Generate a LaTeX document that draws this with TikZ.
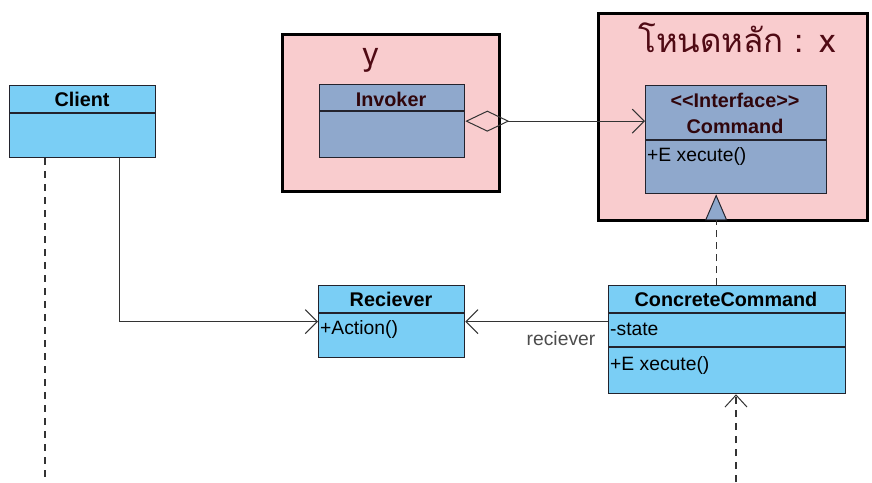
\documentclass[tikz,border=0pt]{standalone}
\usepackage{fontspec}
\setmainfont{Liberation Sans}
\newfontfamily\thaifont[Script=Thai]{Loma}
\usetikzlibrary{arrows.meta,positioning}

\definecolor{lightblue}{RGB}{122,206,245}
\definecolor{steelblue}{RGB}{143,168,204}
\definecolor{framepink}{RGB}{249,204,206}
\definecolor{boxline}{RGB}{35,35,45}
\definecolor{labelred}{RGB}{80,10,20}

\begin{document}
\begin{tikzpicture}[x=1pt, y=-1pt,
    every node/.style={font=\fontsize{19.3}{22}\selectfont},
    frame/.style={draw=black, line width=3.2pt, fill=framepink, anchor=north west, inner sep=0pt},
    classbox/.style={draw=boxline, line width=1.3pt, fill=lightblue, anchor=north west, inner sep=0pt},
    ifacebox/.style={classbox, fill=steelblue},
    header/.style={font=\bfseries\fontsize{19.8}{22}\selectfont, inner sep=0pt},
    member/.style={anchor=west, inner sep=0pt},
    divider/.style={draw=boxline, line width=1.3pt},
    framelabel/.style={text=labelred, font=\thaifont\fontsize{33}{36}\selectfont, inner sep=0pt},
    roletext/.style={text=black!70, inner sep=0pt},
    assoc/.style={draw=black!80, line width=1pt, -{Straight Barb[length=12pt, width=24pt, line width=1pt]}},
    aggr/.style={draw=black!80, line width=1pt, {Diamond[open, length=44pt, width=21pt, line width=1pt]}-{Straight Barb[length=12pt, width=24pt, line width=1pt]}},
    realize/.style={draw=black!80, line width=1.2pt, dash pattern=on 7pt off 5pt, -{Triangle[length=26pt, width=22pt, line width=1pt, fill=steelblue, color=boxline]}},
    lifeline/.style={draw=black!80, line width=1.3pt, dash pattern=on 7pt off 6pt}]

    \useasboundingbox (0,0) rectangle (872,482);

    % frames
    \node[frame, minimum width=217pt, minimum height=157pt] (yframe) at (281,33) {};
    \node[frame, minimum width=269pt, minimum height=207pt] (xframe) at (597,12) {};
    \node[framelabel] (ylabel) at (371,60) {y};
    \node[framelabel] (xlabel) at (737,38) {โหนดหลัก : x};

    % classes
    \node[classbox, minimum width=146pt, minimum height=72pt] (client) at (9,85) {};
    \node[header] (clienthead) at (82,99) {Client};
    \draw[divider] (client.west |- 0,113) -- (client.east |- 0,113);

    \node[ifacebox, minimum width=145pt, minimum height=73pt] (invoker) at (319,84) {};
    \node[header, text=labelred!60!black] (invokerhead) at (391,99) {Invoker};
    \draw[divider] (invoker.west |- 0,111) -- (invoker.east |- 0,111);

    \node[ifacebox, minimum width=181pt, minimum height=108pt] (command) at (645,85) {};
    \node[header, text=labelred!60!black] (commandtype) at (735,100) {<\kern0pt<Interface>\kern0pt>};
    \node[header, text=labelred!60!black] (commandhead) at (735,126) {Command};
    \draw[divider] (command.west |- 0,140) -- (command.east |- 0,140);
    \node[member] (commandexec) at (647,157) {+E xecute()};

    \node[classbox, minimum width=146pt, minimum height=72pt] (reciever) at (318,285) {};
    \node[header] (recieverhead) at (391,299) {Reciever};
    \draw[divider] (reciever.west |- 0,313) -- (reciever.east |- 0,313);
    \node[member] (recieveraction) at (320,329) {+Action()};

    \node[classbox, minimum width=237pt, minimum height=108pt] (concrete) at (608,285) {};
    \node[header] (concretehead) at (726,299) {ConcreteCommand};
    \draw[divider] (concrete.west |- 0,313) -- (concrete.east |- 0,313);
    \draw[divider] (concrete.west |- 0,347) -- (concrete.east |- 0,347);
    \node[member] (concretestate) at (610,329) {-state};
    \node[member] (concreteexec) at (610,365) {+E xecute()};

    % connectors
    \coordinate (clientend) at (45,482);
    \coordinate (callend) at (736,482);
    \coordinate (cmdfoot) at ([xshift=-20pt]command.south);

    \draw[lifeline] (clientend |- client.south) -- (clientend);
    \draw[assoc] ([xshift=37pt]client.south) |- (reciever.west);
    \draw[aggr] (invoker.east) -- (command.west |- invoker.east);
    \draw[realize] (cmdfoot |- concrete.north) -- (cmdfoot);
    \draw[assoc] (reciever.east -| concrete.west) -- (reciever.east);
    \node[roletext] (recrole) at (561,339) {reciever};
    \draw[lifeline, -{Straight Barb[length=12pt, width=22pt, line width=1pt]}] (callend) -- (callend |- concrete.south);
\end{tikzpicture}
\end{document}
